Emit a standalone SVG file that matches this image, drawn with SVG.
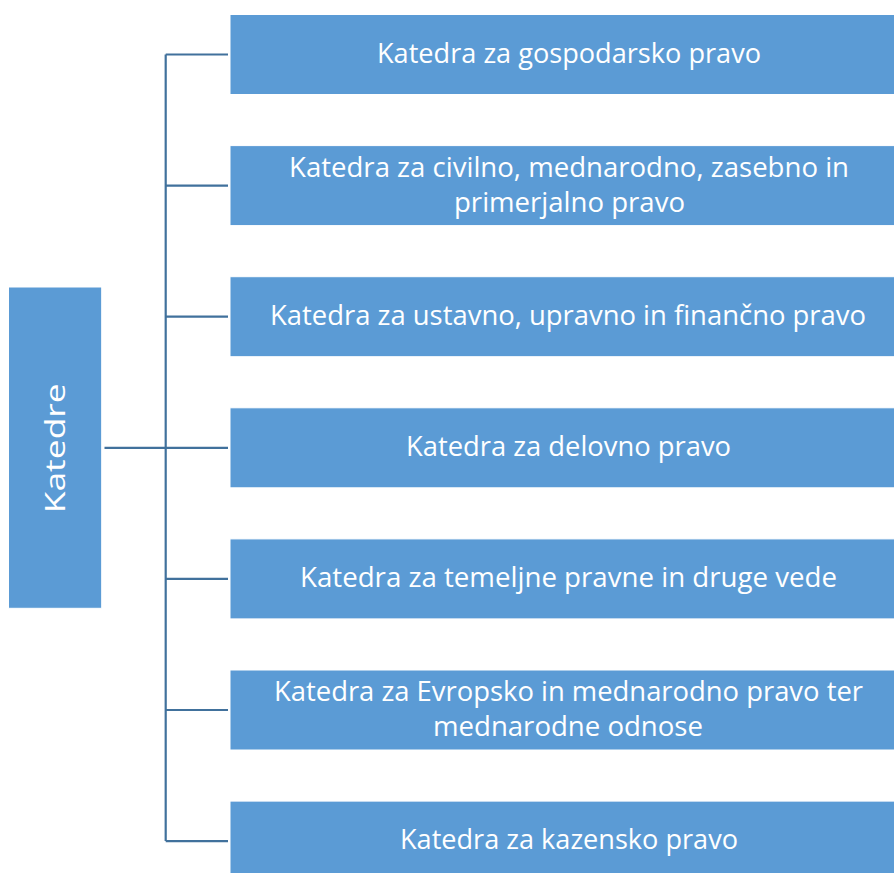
<svg xmlns="http://www.w3.org/2000/svg" width="894" height="873" viewBox="0 0 894 873">
<style>
.box{fill:#5B9BD5;stroke:#FFFFFF;stroke-width:1}
.lbl{fill:#FFFFFF;font-family:"Open Sans","Liberation Sans",sans-serif;font-size:26.5px;text-anchor:middle}
.conn{stroke:#41719C;stroke-width:2.2;fill:none}
</style>
<rect x="0" y="0" width="894" height="873" fill="#FFFFFF"/>
<g id="connectors">
<path class="conn" d="M165.7 54.5 V841.1"/>
<path class="conn" d="M104.5 447.8 H165.7" stroke-width="3"/>
<path class="conn" d="M165.7 54.5 H228"/>
<path class="conn" d="M165.7 185.6 H228"/>
<path class="conn" d="M165.7 316.7 H228"/>
<path class="conn" d="M165.7 447.8 H228"/>
<path class="conn" d="M165.7 578.9 H228"/>
<path class="conn" d="M165.7 710 H228"/>
<path class="conn" d="M165.7 841.1 H228"/>
</g>
<g id="root">
<rect class="box" x="8.5" y="287" width="93.2" height="321.3"/>
<text class="lbl" transform="translate(64.5,448.3) rotate(-90)" x="0" y="0" font-size="33" textLength="130" lengthAdjust="spacingAndGlyphs">Katedre</text>
</g>
<g id="n1">
<rect class="box" x="230" y="14.5" width="680" height="80"/>
<text class="lbl" x="569" y="62.5" textLength="384" lengthAdjust="spacingAndGlyphs">Katedra za gospodarsko pravo</text>
</g>
<g id="n2">
<rect class="box" x="230" y="145.6" width="680" height="80"/>
<text class="lbl" x="569" y="176.7" textLength="560" lengthAdjust="spacingAndGlyphs">Katedra za civilno, mednarodno, zasebno in</text>
<text class="lbl" x="569.5" y="211.7" textLength="231" lengthAdjust="spacingAndGlyphs">primerjalno pravo</text>
</g>
<g id="n3">
<rect class="box" x="230" y="276.7" width="680" height="80"/>
<text class="lbl" x="568" y="324.7" textLength="596" lengthAdjust="spacingAndGlyphs">Katedra za ustavno, upravno in finančno pravo</text>
</g>
<g id="n4">
<rect class="box" x="230" y="407.8" width="680" height="80"/>
<text class="lbl" x="568.5" y="455.8" textLength="325" lengthAdjust="spacingAndGlyphs">Katedra za delovno pravo</text>
</g>
<g id="n5">
<rect class="box" x="230" y="538.9" width="680" height="80"/>
<text class="lbl" x="568.5" y="586.9" textLength="537" lengthAdjust="spacingAndGlyphs">Katedra za temeljne pravne in druge vede</text>
</g>
<g id="n6">
<rect class="box" x="230" y="670" width="680" height="80"/>
<text class="lbl" x="568.5" y="701.3" textLength="589" lengthAdjust="spacingAndGlyphs">Katedra za Evropsko in mednarodno pravo ter</text>
<text class="lbl" x="568" y="736.3" textLength="270" lengthAdjust="spacingAndGlyphs">mednarodne odnose</text>
</g>
<g id="n7">
<rect class="box" x="230" y="801.1" width="680" height="80"/>
<text class="lbl" x="569" y="849.1" textLength="338" lengthAdjust="spacingAndGlyphs">Katedra za kazensko pravo</text>
</g>
</svg>
